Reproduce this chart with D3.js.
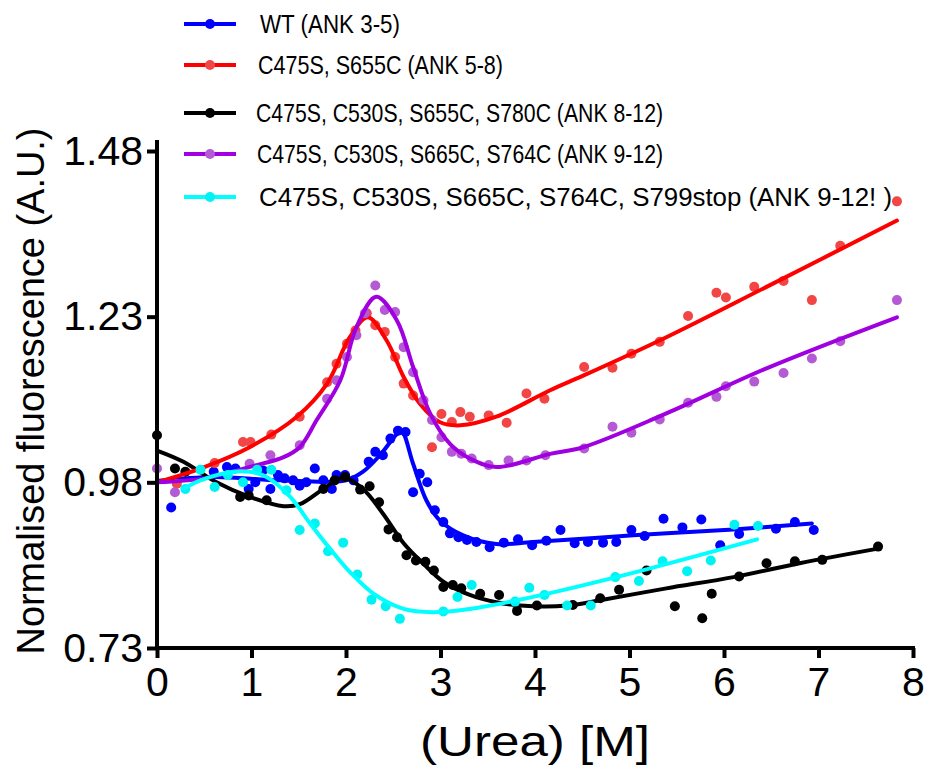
<!DOCTYPE html>
<html>
<head>
<meta charset="utf-8">
<script src="https://cdn.jsdelivr.net/npm/d3@7"></script>
<style>
  body { margin: 0; background: #fff; }
  svg { font-family: "Liberation Sans", Arial, sans-serif; }
</style>
</head>
<body>
<div id="chart"></div>
<script>
// data: [urea M, normalised fluorescence]
var wtPoints = [[0.15,0.942],[0.60,0.996],[0.74,1.003],[0.83,1.001],[0.97,0.970],[1.04,0.980],[1.12,0.998],[1.20,0.970],[1.28,0.991],[1.35,0.986],[1.44,0.983],[1.51,0.975],[1.58,0.980],[1.67,1.001],[1.76,0.983],[1.85,0.970],[1.90,0.991],[1.99,0.991],[2.08,0.983],[2.24,1.011],[2.31,1.026],[2.39,1.021],[2.47,1.046],[2.55,1.058],[2.63,1.056],[2.71,0.965],[2.78,0.993],[2.86,0.980],[2.94,0.938],[3.03,0.920],[3.10,0.903],[3.19,0.897],[3.28,0.893],[3.38,0.890],[3.52,0.882],[3.67,0.889],[3.82,0.894],[3.97,0.885],[4.12,0.892],[4.27,0.908],[4.42,0.888],[4.56,0.890],[4.72,0.889],[4.86,0.890],[5.02,0.908],[5.16,0.899],[5.36,0.925],[5.56,0.912],[5.76,0.924],[5.96,0.885],[6.16,0.902],[6.55,0.910],[6.75,0.920],[6.95,0.908]];
var wtFit = [[0,0.982],[0.6,0.988],[1.3,0.983],[2.0,0.983],[2.18,0.996],[2.36,1.021],[2.54,1.053],[2.59,1.057],[2.71,1.008],[2.85,0.953],[2.99,0.923],[3.24,0.900],[3.59,0.887],[3.98,0.890],[5.04,0.900],[6.10,0.909],[6.93,0.918]];

var ank58Points = [[0.21,0.978],[0.61,1.009],[0.91,1.041],[0.99,1.041],[1.21,1.052],[1.51,1.079],[1.80,1.131],[1.90,1.159],[2.01,1.189],[2.10,1.209],[2.22,1.235],[2.31,1.217],[2.41,1.207],[2.52,1.169],[2.61,1.129],[2.71,1.111],[2.91,1.033],[3.01,1.083],[3.12,1.071],[3.21,1.086],[3.31,1.079],[3.51,1.081],[3.70,1.070],[3.91,1.114],[4.10,1.106],[4.52,1.154],[4.82,1.153],[5.02,1.174],[5.32,1.192],[5.62,1.231],[5.92,1.266],[6.02,1.259],[6.32,1.275],[6.63,1.284],[6.93,1.255],[7.23,1.337],[7.83,1.404]];
var ank58Fit = [[0,0.980],[0.5,1.003],[0.98,1.033],[1.48,1.079],[1.80,1.129],[2.04,1.199],[2.23,1.229],[2.43,1.194],[2.61,1.139],[2.78,1.099],[2.99,1.071],[3.21,1.066],[3.59,1.079],[4.16,1.119],[4.51,1.141],[5.39,1.199],[6.45,1.275],[7.83,1.375]];

var ank812Points = [[0,1.051],[0.19,1.001],[0.30,0.996],[0.88,0.958],[0.97,0.960],[1.16,0.953],[1.76,0.970],[1.88,0.983],[1.99,0.988],[2.15,0.969],[2.25,0.974],[2.35,0.950],[2.45,0.909],[2.54,0.897],[2.64,0.870],[2.74,0.862],[2.84,0.860],[2.93,0.847],[3.03,0.822],[3.13,0.825],[3.22,0.820],[3.42,0.812],[3.62,0.810],[3.81,0.786],[4.02,0.794],[4.40,0.795],[4.69,0.805],[4.89,0.818],[5.18,0.847],[5.48,0.793],[5.77,0.775],[5.87,0.812],[6.16,0.838],[6.45,0.858],[6.75,0.861],[7.04,0.863],[7.63,0.883]];
var ank812Fit = [[0,1.028],[0.28,1.011],[0.63,0.980],[0.98,0.958],[1.34,0.944],[1.51,0.947],[1.76,0.970],[1.97,0.987],[2.18,0.970],[2.39,0.933],[2.61,0.888],[2.82,0.857],[3.03,0.830],[3.31,0.810],[3.59,0.799],[3.98,0.793],[4.34,0.794],[4.69,0.802],[5.39,0.820],[6.10,0.837],[6.80,0.858],[7.63,0.880]];

var ank912Points = [[0,1.001],[0.19,0.965],[0.98,1.008],[1.20,1.021],[1.51,1.036],[1.80,1.106],[1.90,1.134],[2.01,1.169],[2.11,1.202],[2.20,1.235],[2.31,1.277],[2.41,1.240],[2.52,1.237],[2.61,1.184],[2.71,1.146],[2.82,1.104],[2.91,1.074],[3.01,1.048],[3.12,1.026],[3.22,1.023],[3.33,1.016],[3.51,1.006],[3.72,1.013],[3.91,1.013],[4.11,1.021],[4.52,1.031],[4.82,1.064],[5.02,1.055],[5.32,1.075],[5.62,1.100],[5.92,1.109],[6.02,1.125],[6.32,1.132],[6.63,1.145],[6.93,1.167],[7.23,1.193],[7.83,1.255]];
var ank912Fit = [[0,0.980],[0.5,0.986],[1.0,1.004],[1.34,1.018],[1.51,1.033],[1.69,1.074],[1.94,1.134],[2.11,1.214],[2.32,1.260],[2.54,1.224],[2.71,1.154],[2.89,1.084],[3.10,1.038],[3.31,1.016],[3.59,1.003],[4.16,1.023],[4.51,1.033],[5.39,1.084],[6.45,1.152],[7.83,1.229]];

var stopPoints = [[0.30,0.970],[0.46,0.999],[0.61,0.973],[0.75,0.991],[0.91,0.980],[1.06,0.999],[1.21,0.999],[1.37,0.968],[1.51,0.908],[1.67,0.918],[1.81,0.876],[1.97,0.889],[2.12,0.841],[2.27,0.803],[2.42,0.793],[2.57,0.774],[3.03,0.785],[3.18,0.807],[3.33,0.825],[3.79,0.800],[3.94,0.821],[4.10,0.810],[4.34,0.794],[4.59,0.794],[4.85,0.837],[5.10,0.831],[5.35,0.861],[5.61,0.846],[5.86,0.862],[6.11,0.916],[6.36,0.914]];
var stopFit = [[0.28,0.970],[0.46,0.983],[0.81,0.996],[0.98,0.996],[1.16,0.988],[1.41,0.958],[1.62,0.918],[1.83,0.880],[2.04,0.845],[2.29,0.812],[2.61,0.789],[2.92,0.784],[3.31,0.789],[3.81,0.802],[4.86,0.837],[6.35,0.894]];

var xTicks = [0, 1, 2, 3, 4, 5, 6, 7, 8];
var yTicks = [0.73, 0.98, 1.23, 1.48];

var seriesNames = ["WT (ANK 3-5)", "C475S, S655C (ANK 5-8)", "C475S, C530S, S655C, S780C (ANK 8-12)", "C475S, C530S, S665C, S764C (ANK 9-12)", "C475S, C530S, S665C, S764C, S799stop (ANK 9-12!  )"];

// styling / layout
var lineColors = ["#0000ff", "#ff0000", "#000000", "#a000e0", "#00ffff"];
var dotColors  = ["#0000ff", "#f24545", "#000000", "#b45ad4", "#00f2f2"];
var legendY = [24, 65, 113, 154, 197];
var legendTextX = [260, 258, 256, 257, 259];
var legendTextW = [140, 245, 407, 406, 633];

var series = [
    {points: wtPoints, fit: wtFit},
    {points: ank58Points, fit: ank58Fit},
    {points: ank812Points, fit: ank812Fit},
    {points: ank912Points, fit: ank912Fit},
    {points: stopPoints, fit: stopFit}
];
var drawOrder = [0, 2, 1, 3, 4];

var width = 933, height = 768;
var svg = d3.select("#chart").append("svg")
    .attr("width", width)
    .attr("height", height);

var x = d3.scaleLinear().domain([0, 8]).range([157, 913]);
var y = d3.scaleLinear().domain([0.73, 1.48]).range([648, 151]);

var line = d3.line()
    .x(function(d) { return x(d[0]); })
    .y(function(d) { return y(d[1]); })
    .curve(d3.curveCatmullRom.alpha(0.5));

// marks
drawOrder.forEach(function(i) {
    var s = series[i];
    var g = svg.append("g").attr("class", "series s" + i);
    g.selectAll("circle")
        .data(s.points)
        .enter().append("circle")
        .attr("cx", function(d) { return x(d[0]); })
        .attr("cy", function(d) { return y(d[1]); })
        .attr("r", 5)
        .style("fill", dotColors[i]);
    g.append("path")
        .datum(s.fit)
        .attr("d", line)
        .style("fill", "none")
        .style("stroke", lineColors[i])
        .style("stroke-width", 4)
        .style("stroke-linecap", "round");
});

// axes
var yAxis = d3.axisLeft(y)
    .tickValues(yTicks)
    .tickFormat(d3.format(".2f"))
    .tickSize(10)
    .tickPadding(4);
var xAxis = d3.axisBottom(x)
    .tickValues(xTicks)
    .tickFormat(d3.format("d"))
    .tickSize(10)
    .tickPadding(10);

var gy = svg.append("g").attr("transform", "translate(157,0)").call(yAxis);
var gx = svg.append("g").attr("transform", "translate(0,648)").call(xAxis);

[gx, gy].forEach(function(g) {
    g.select(".domain").remove();
    g.selectAll(".tick line").style("stroke", "#000").style("stroke-width", 4);
    g.selectAll(".tick text")
        .style("font-size", "41px")
        .style("fill", "#000")
        .style("font-family", "'Liberation Sans', Arial, sans-serif");
});
gx.selectAll(".tick text").attr("dy", "0.68em");

svg.append("line")
    .attr("x1", 157).attr("x2", 157)
    .attr("y1", 140).attr("y2", 650)
    .style("stroke", "#000").style("stroke-width", 4);
svg.append("line")
    .attr("x1", 155).attr("x2", 915)
    .attr("y1", 648).attr("y2", 648)
    .style("stroke", "#000").style("stroke-width", 4);

// axis titles
svg.append("text")
    .attr("x", 535)
    .attr("y", 756)
    .attr("text-anchor", "middle")
    .attr("textLength", 230)
    .attr("lengthAdjust", "spacingAndGlyphs")
    .style("font-size", "42px")
    .text("(Urea) [M]");

svg.append("text")
    .attr("transform", "translate(44,391)rotate(-90)")
    .attr("text-anchor", "middle")
    .attr("textLength", 527)
    .attr("lengthAdjust", "spacingAndGlyphs")
    .style("font-size", "38px")
    .text("Normalised fluorescence (A.U.)");

// legend
var legend = svg.append("g").attr("class", "legend");
seriesNames.forEach(function(name, i) {
    var row = legend.append("g").attr("transform", "translate(0," + legendY[i] + ")");
    row.append("line")
        .attr("x1", 184).attr("x2", 236)
        .style("stroke", lineColors[i]).style("stroke-width", 4);
    row.append("circle")
        .attr("cx", 210).attr("r", 5)
        .style("fill", dotColors[i]);
    row.append("text")
        .attr("x", legendTextX[i])
        .attr("y", 9)
        .attr("textLength", legendTextW[i])
        .attr("lengthAdjust", "spacingAndGlyphs")
        .style("font-size", "25px")
        .text(name);
});
</script>
</body>
</html>
